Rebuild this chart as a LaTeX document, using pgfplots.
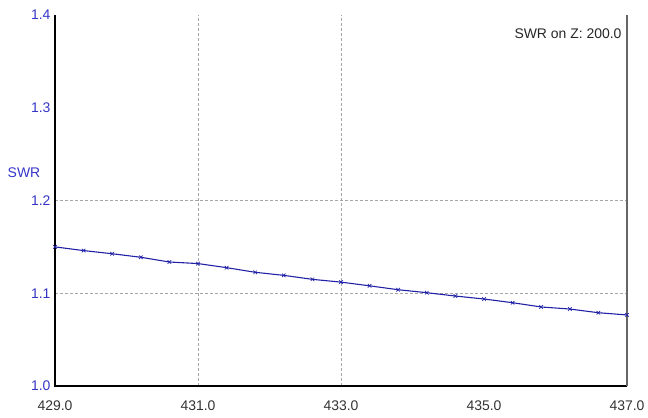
\documentclass[border=0pt]{standalone}
\usepackage{fontspec}
\setmainfont{Liberation Sans}
\usepackage{pgfplots}
\pgfplotsset{compat=1.18}
\definecolor{swrline}{HTML}{2222A8}
\definecolor{ylab}{HTML}{3535C8}
\definecolor{xlab}{HTML}{333333}
\begin{document}
\begin{tikzpicture}[x=1bp,y=1bp]
\useasboundingbox (0,0) rectangle (648,417);
\begin{axis}[
  at={(55bp,31bp)}, anchor=south west,
  scale only axis, width=572bp, height=371bp,
  xmin=429, xmax=437, ymin=1.0, ymax=1.4,
  axis line style={draw=none},
  xtick={429,431,433,435,437},
  ytick={1.0,1.1,1.2,1.3,1.4},
  xticklabels={429.0,431.0,433.0,435.0,437.0},
  yticklabels={1.0,1.1,1.2,1.3,1.4},
  major tick length=0pt,
  tick style={draw=none},
  tick label style={font=\fontsize{14}{16}\selectfont},
  x tick label style={text=xlab, yshift=-11bp},
  y tick label style={text=ylab, xshift=-1bp},
  clip=false,
]
% grid lines
\draw[gray!70, dash pattern=on 3bp off 2bp, line width=0.8bp] (axis cs:431,1.0) -- (axis cs:431,1.4);
\draw[gray!70, dash pattern=on 3bp off 2bp, line width=0.8bp] (axis cs:433,1.0) -- (axis cs:433,1.4);
\draw[gray!70, dash pattern=on 3bp off 2bp, line width=0.8bp] (axis cs:429,1.1) -- (axis cs:437,1.1);
\draw[gray!70, dash pattern=on 3bp off 2bp, line width=0.8bp] (axis cs:429,1.2) -- (axis cs:437,1.2);
% frame
\draw[black, line width=1.2bp] (axis cs:429,1.4) -- (axis cs:429,1.0) -- (axis cs:437,1.0);
\draw[gray!80!black, line width=1.5bp] (axis cs:437,1.0) -- (axis cs:437,1.4);
\addplot[color=swrline, line width=1.1bp, mark=x, mark size=2.5bp, mark options={line width=0.7bp}] coordinates {
(429.0,1.150) (429.4,1.146) (429.8,1.1426) (430.2,1.1388) (430.6,1.1337)
(431.0,1.132) (431.4,1.1276) (431.8,1.1226) (432.2,1.1193) (432.6,1.115)
(433.0,1.112) (433.4,1.108) (433.8,1.1038) (434.2,1.1006) (434.6,1.097)
(435.0,1.0938) (435.4,1.0898) (435.8,1.0852) (436.2,1.083) (436.6,1.079)
(437.0,1.0766)
};
\end{axis}
\node[text=ylab, font=\fontsize{14}{16}\selectfont] at (24,244) {SWR};
\node[anchor=east, text=black!85, font=\fontsize{14}{16}\selectfont] at (625,383) {SWR on Z: 200.0};
\end{tikzpicture}
\end{document}
